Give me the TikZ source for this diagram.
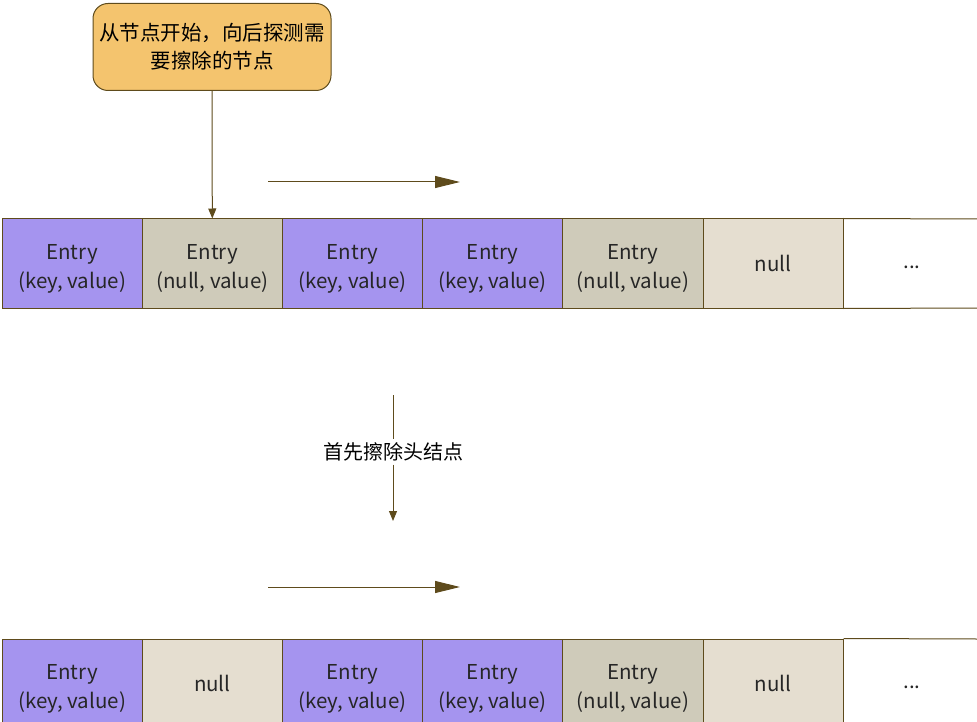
\documentclass[tikz,border=0pt]{standalone}
\usepackage{fontspec}
\setmainfont{Noto Sans CJK SC}
\usetikzlibrary{arrows.meta}

\definecolor{linebrown}{HTML}{5E4B1C}
\definecolor{kvpurple}{HTML}{A594EF}
\definecolor{nvgray}{HTML}{CFCBBA}
\definecolor{nullbeige}{HTML}{E5DED0}
\definecolor{noteorange}{HTML}{F4C46E}

\newcommand{\entrytext}[2]{\raisebox{0pt}[\dimexpr\height+9pt\relax]{\begin{tabular}{@{}c@{}}#1\\#2\end{tabular}}}

\tikzset{
  cell/.style={draw=linebrown, line width=1pt, minimum width=140.2pt, minimum height=89pt,
    inner sep=0pt, font=\fontsize{20.5}{29.5}\selectfont, text=black!85},
  note/.style={draw=linebrown, fill=noteorange, rounded corners=15pt, line width=1pt,
    minimum width=238pt, minimum height=87pt, align=center, font=\fontsize{20.5}{28}\selectfont},
  lbl/.style={fill=white, inner sep=3pt, font=\fontsize{20}{24}\selectfont},
  link/.style={draw=linebrown, line width=1pt},
}

\begin{document}
\begin{tikzpicture}[x=1pt, y=-1pt, line cap=butt]
  \useasboundingbox (0,0) rectangle (977,722);
  \clip (0,0) rectangle (977,722);

  \node[note] (tip) at (212,47) {从节点开始，向后探测需\\要擦除的节点};

  % first row
  \foreach \i/\c/\t in {1/kvpurple/{\entrytext{Entry}{(key, value)}}, 2/nvgray/{\entrytext{Entry}{(null, value)}},
      3/kvpurple/{\entrytext{Entry}{(key, value)}}, 4/kvpurple/{\entrytext{Entry}{(key, value)}},
      5/nvgray/{\entrytext{Entry}{(null, value)}}, 6/nullbeige/null} {
    \node[cell, fill=\c] (a\i) at ({2+140.2*(\i-1)+70.1},263.5) {\t};
  }
  \node[cell, draw=none, minimum width=0pt, minimum height=0pt] (a7) at (912,267) {...};
  \coordinate (a7ne) at (977,219);
  \coordinate (a7se) at (977,308);
  \draw[link] (a6.north east) -- (a7ne);
  \draw[link] (a6.south east) -- (a7se);

  % second row
  \foreach \i/\c/\t in {1/kvpurple/{\entrytext{Entry}{(key, value)}}, 2/nullbeige/null,
      3/kvpurple/{\entrytext{Entry}{(key, value)}}, 4/kvpurple/{\entrytext{Entry}{(key, value)}},
      5/nvgray/{\entrytext{Entry}{(null, value)}}, 6/nullbeige/null} {
    \node[cell, fill=\c] (b\i) at ({2+140.2*(\i-1)+70.1},683.5) {\t};
  }
  \node[cell, draw=none, minimum width=0pt, minimum height=0pt] (b7) at (912,687) {...};
  \coordinate (b7ne) at (977,639);
  \draw[link] (b6.north east) -- (b7ne);

  % arrows
  \draw[link, -{Triangle[length=10pt, width=8pt]}] (tip.south) -- (a2.north);

  \coordinate (s1) at (268,182);
  \coordinate (e1) at (460,182);
  \draw[link, -{Triangle[length=25pt, width=12pt]}] (s1) -- (e1);

  \node[lbl] (step) at (393,452) {首先擦除头结点};
  \coordinate (m1) at (393,395);
  \coordinate (m2) at (393,521);
  \draw[link] (m1) -- (step);
  \draw[link, -{Triangle[length=10pt, width=8pt]}] (step) -- (m2);

  \coordinate (s2) at (268,587);
  \coordinate (e2) at (460,587);
  \draw[link, -{Triangle[length=25pt, width=12pt]}] (s2) -- (e2);
\end{tikzpicture}
\end{document}
